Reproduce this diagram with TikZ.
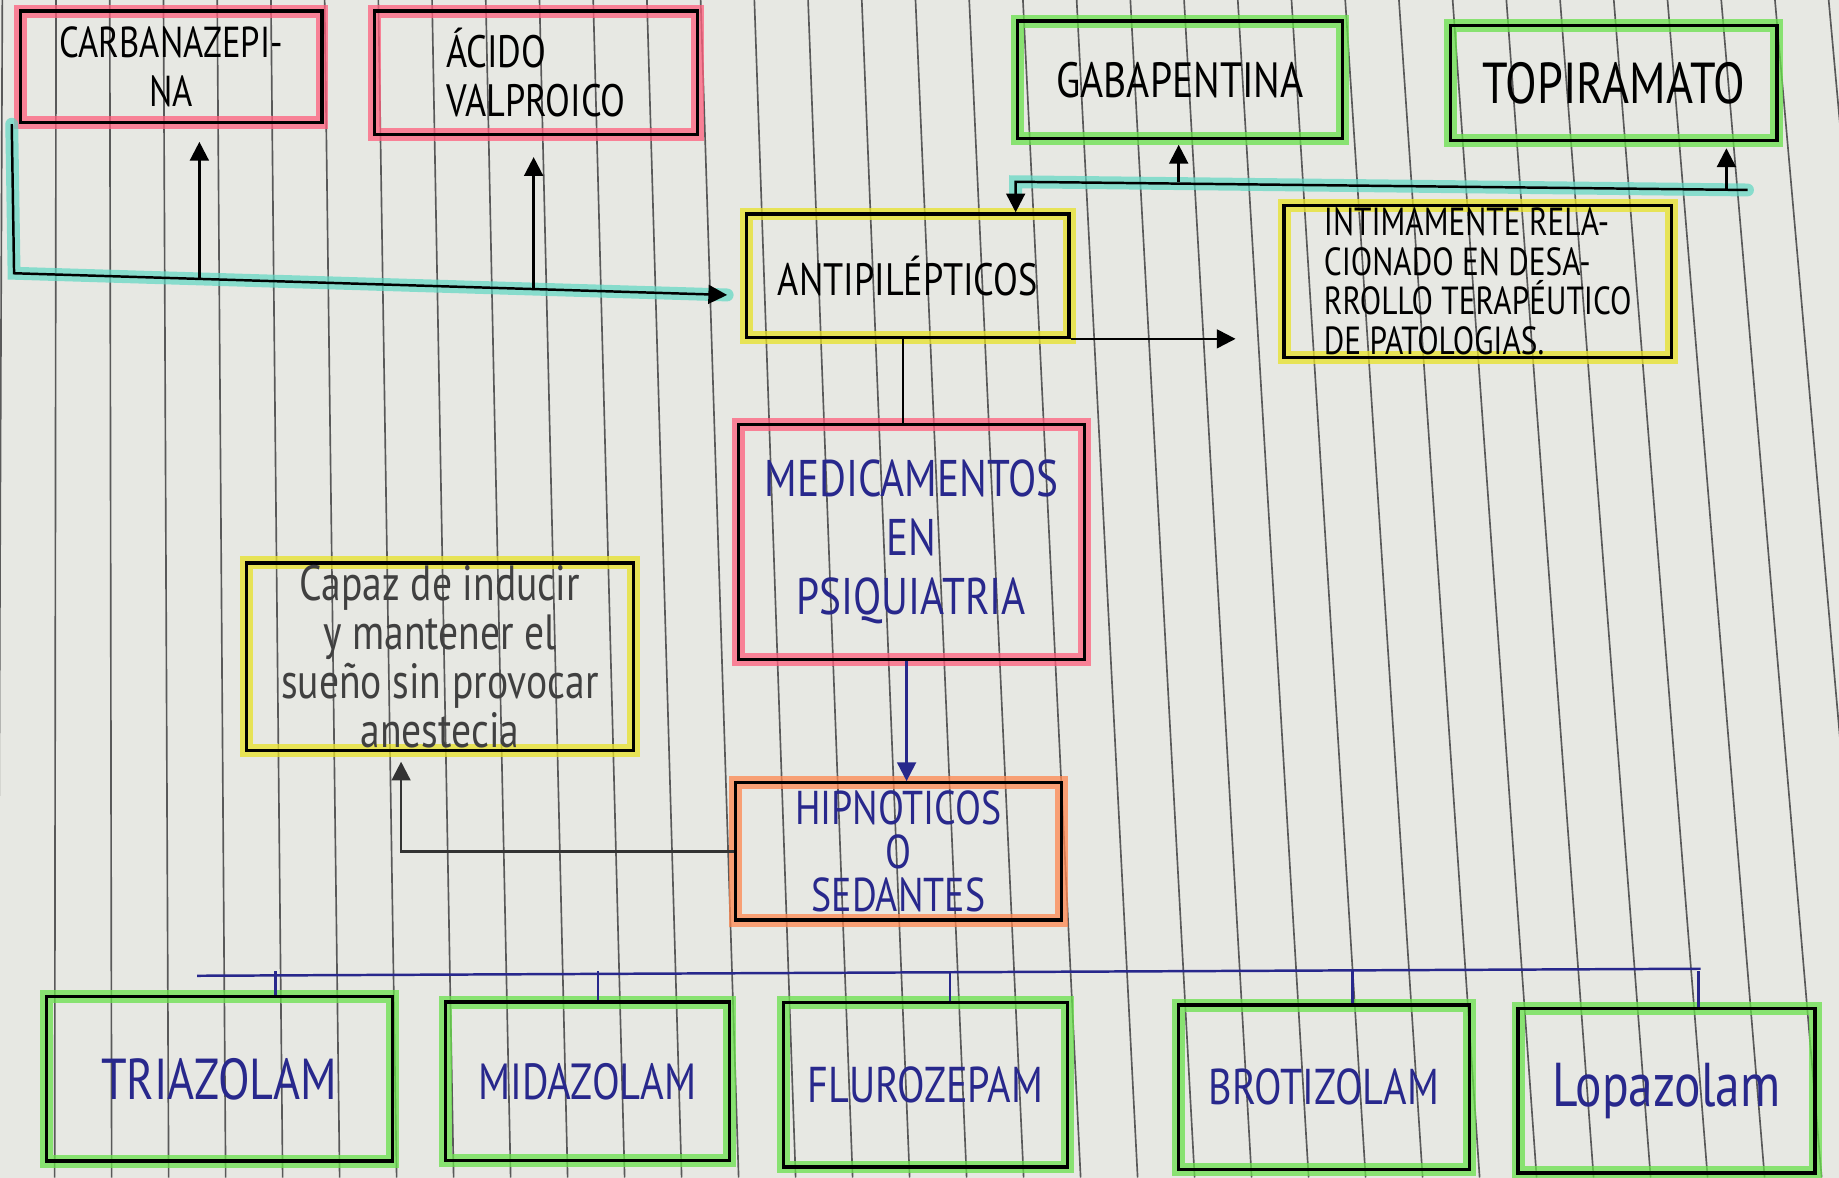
\documentclass[tikz,border=0pt]{standalone}
\usepackage{fontspec}
\newfontfamily\handfont[FakeStretch=0.8]{PT Sans}
\newcommand{\handsize}[2]{\handfont\fontsize{#1}{#2}\selectfont}
\usetikzlibrary{arrows.meta,positioning,calc}
\definecolor{paper}{RGB}{231,232,227}
\definecolor{hlpink}{RGB}{255,95,125}
\definecolor{hlgreen}{RGB}{105,225,75}
\definecolor{hlyellow}{RGB}{232,226,40}
\definecolor{hlorange}{RGB}{255,135,80}
\definecolor{hlteal}{RGB}{95,215,195}
\definecolor{inkblue}{RGB}{40,40,140}
\tikzset{
  drugbox/.style={draw=black, line width=0.8pt, inner sep=0pt, align=center},
  hl/.style={preaction={draw=#1, line width=1.1mm, opacity=0.75}},
  hlstroke/.style={draw=#1, line width=1.1mm, opacity=0.7, line cap=round},
  link/.style={line width=0.6pt, -{Triangle[length=1.6mm,width=1.6mm]}},
  plain/.style={line width=0.6pt},
  ruling/.style={draw=black!65, line width=0.4pt}
}

\begin{document}
\begin{tikzpicture}[x=0.01cm, y=-0.01cm]
  \fill[paper] (0,0) rectangle (1568,1004);
  \useasboundingbox (0,0) rectangle (1568,1004);
  \begin{scope}
    \clip (0,0) rectangle (1568,1004);
    \foreach \k in {0,...,34}
      \draw[ruling] ({2+45.8*\k},0) -- ({-2+48.6*\k},1004);
  \end{scope}

  % antiepilepticos
  \node[drugbox, hl=hlpink, minimum width=2.57cm, minimum height=0.95cm,
        font=\handsize{10.5}{12}] (carba) at (146,57) {CARBANAZEPI-\\NA};
  \node[drugbox, hl=hlpink, minimum width=2.75cm, minimum height=1.05cm,
        align=left, font=\handsize{11}{12}] (acido) at (457,62) {ÁCIDO\\VALPROICO};
  \node[drugbox, hl=hlgreen, minimum width=2.77cm, minimum height=1cm,
        font=\handsize{12}{14}] (gaba) at (1006,68) {GABAPENTINA};
  \node[drugbox, hl=hlgreen, minimum width=2.78cm, minimum height=0.98cm,
        font=\handsize{14}{16}] (topi) at (1376,71) {TOPIRAMATO};
  \node[drugbox, hl=hlyellow, minimum width=2.75cm, minimum height=1.05cm,
        font=\handsize{11}{13}] (anti) at (774,235) {ANTIPILÉPTICOS};
  \node[drugbox, hl=hlyellow, minimum width=3.3cm, minimum height=1.3cm,
        align=left, font=\handsize{9.5}{9.6}] (inti) at (1260,240)
        {INTIMAMENTE RELA-\\CIONADO EN DESA-\\RROLLO TERAPÉUTICO\\DE PATOLOGIAS.};

  % centro
  \node[drugbox, hl=hlpink, minimum width=2.95cm, minimum height=2cm,
        text=inkblue, font=\handsize{12.5}{14.2}] (medi) at (777,462)
        {MEDICAMENTOS\\EN\\PSIQUIATRIA};
  \node[drugbox, hl=hlorange, minimum width=2.78cm, minimum height=1.17cm,
        text=inkblue, font=\handsize{11.5}{10.6}] (hipno) at (766,726)
        {HIPNOTICOS\\O\\SEDANTES};
  \node[drugbox, hl=hlyellow, minimum width=3.3cm, minimum height=1.6cm,
        text=black!75, font=\handsize{12}{10.5}] (capaz) at (375,560)
        {Capaz de inducir\\y mantener el\\sueño sin provocar\\anestecia};

  % benzodiacepinas
  \tikzset{benzo/.style={drugbox, hl=hlgreen, text=inkblue, minimum height=1.4cm}}
  \node[benzo, minimum width=2.95cm, font=\handsize{14}{16}] (tria) at (187,920) {TRIAZOLAM};
  \node[benzo, minimum width=2.42cm, minimum height=1.35cm, font=\handsize{12.3}{14}] (mida) at (501,922) {MIDAZOLAM};
  \node[benzo, minimum width=2.42cm, font=\handsize{12.2}{14}] (fluro) at (789,925) {FLUROZEPAM};
  \node[benzo, minimum width=2.48cm, font=\handsize{12.2}{14}] (broti) at (1129,927) {BROTIZOLAM};
  \node[benzo, minimum width=2.53cm, font=\handsize{15}{17}] (lopa) at (1421,930) {Lopazolam};

  % conectores de arriba
  \coordinate (tl) at (12,233);
  \coordinate (tc) at (170,237);
  \coordinate (tv) at (455,246);
  \coordinate (tr) at (1490,162);
  \coordinate (tk) at (866,155);
  \coordinate (tg) at (1005,155);
  \coordinate (tt) at (1472,161);
  \draw[hlstroke=hlteal] ([xshift=-0.6mm]carba.south west) -- (tl)
      -- ([xshift=-1.5mm,yshift=-1.65mm]anti.west);
  \draw[link] ([xshift=-0.6mm]carba.south west) -- (tl)
      -- ([xshift=-1.5mm,yshift=-1.65mm]anti.west);
  \draw[link, shorten >=1.5mm] (tc) -- (carba.south -| tc);
  \draw[link, shorten >=1.8mm] (tv) -- (acido.south -| tv);
  \draw[hlstroke=hlteal] (tr) -- (tk) -- ++(0,12);
  \draw[link] (tr) -- (tk) -- (anti.north -| tk);
  \draw[link, shorten >=0.4mm] (tg) -- (gaba.south -| tg);
  \draw[link, shorten >=0.5mm] (tt) -- (topi.south -| tt);
  \draw[link, shorten >=4mm] (anti.south east) -- (anti.south east -| inti.west);

  % conectores del centro
  \draw[plain] (anti.south -| 770,0) -- (medi.north -| 770,0);
  \draw[link, draw=inkblue] (medi.south -| 773,0) -- (hipno.north -| 773,0);
  \draw[link, draw=black!80, shorten >=0.8mm] (hipno.west) -| ([xshift=-3.3mm]capaz.south);

  % barra de abajo
  \coordinate (busL) at (168,832);
  \coordinate (busR) at (1450,826);
  \draw[plain, draw=inkblue] (busL) -- (busR);
  \foreach \b/\x in {tria/235, mida/510, fluro/810, broti/1153, lopa/1448}
    \draw[plain, draw=inkblue] (\x,828) -- (\x,0 |- \b.north);
\end{tikzpicture}
\end{document}
